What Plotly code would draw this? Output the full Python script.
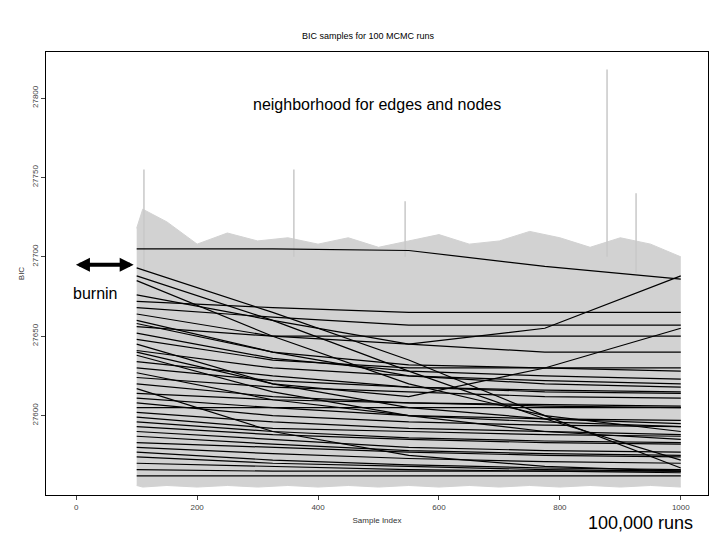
import plotly.graph_objects as go

# black trend lines: value at the sample indices in run_x
run_x = [100, 325, 550, 775, 1000]
runs = [
    [27705, 27705, 27704, 27694, 27686],
    [27693, 27665, 27635, 27600, 27567],
    [27688, 27660, 27628, 27598, 27572],
    [27676, 27660, 27645, 27655, 27688],
    [27672, 27668, 27665, 27665, 27665],
    [27668, 27662, 27657, 27657, 27657],
    [27664, 27650, 27645, 27640, 27640],
    [27660, 27640, 27625, 27620, 27618],
    [27656, 27650, 27650, 27650, 27650],
    [27652, 27636, 27628, 27625, 27623],
    [27648, 27635, 27630, 27630, 27630],
    [27645, 27620, 27605, 27598, 27595],
    [27641, 27630, 27625, 27622, 27620],
    [27638, 27615, 27600, 27590, 27585],
    [27634, 27625, 27618, 27615, 27614],
    [27630, 27622, 27618, 27616, 27615],
    [27627, 27610, 27600, 27596, 27593],
    [27624, 27618, 27615, 27612, 27611],
    [27620, 27612, 27608, 27606, 27605],
    [27617, 27590, 27575, 27568, 27565],
    [27614, 27610, 27608, 27607, 27606],
    [27611, 27605, 27600, 27598, 27597],
    [27608, 27600, 27596, 27594, 27593],
    [27605, 27605, 27605, 27605, 27605],
    [27602, 27596, 27592, 27590, 27588],
    [27599, 27592, 27590, 27588, 27587],
    [27596, 27590, 27586, 27584, 27583],
    [27593, 27588, 27585, 27583, 27582],
    [27590, 27585, 27580, 27578, 27577],
    [27587, 27582, 27578, 27576, 27575],
    [27583, 27580, 27577, 27575, 27574],
    [27580, 27576, 27573, 27571, 27570],
    [27577, 27572, 27569, 27567, 27566],
    [27574, 27570, 27568, 27566, 27565],
    [27570, 27568, 27566, 27565, 27564],
    [27566, 27565, 27565, 27565, 27565],
    [27562, 27562, 27562, 27562, 27562],
    [27640, 27620, 27612, 27630, 27655],
    [27685, 27650, 27620, 27600, 27590],
    [27658, 27640, 27632, 27630, 27628],
]

# grey sample envelope
env_x = [100, 110, 150, 200, 250, 300, 350, 400, 450, 500, 550, 600, 650, 700, 750, 800, 850, 900, 950, 1000]
env_hi = [27718, 27730, 27722, 27708, 27715, 27710, 27712, 27708, 27712, 27706, 27710, 27714, 27708, 27710, 27716, 27712, 27706, 27712, 27708, 27700]
env_lo = [27556, 27555, 27556, 27555, 27556, 27555, 27556, 27555, 27556, 27555, 27556, 27555, 27556, 27555, 27556, 27555, 27556, 27555, 27556, 27555]

# isolated grey spikes
spike_x = [112, 360, 544, 878, 926]
spike_hi = [27755, 27755, 27735, 27818, 27740]
spike_lo = [27690, 27700, 27700, 27700, 27690]

y_ticks = [27600, 27650, 27700, 27750, 27800]

fig = go.Figure()
fig.add_trace(go.Scatter(x=env_x, y=env_lo, mode='lines', line=dict(color='#d2d2d2', width=1)))
fig.add_trace(go.Scatter(x=env_x, y=env_hi, mode='lines', fill='tonexty',
                         fillcolor='#d2d2d2', line=dict(color='#d2d2d2', width=1)))
for sx, hi, lo in zip(spike_x, spike_hi, spike_lo):
    fig.add_trace(go.Scatter(x=[sx, sx], y=[lo, hi], mode='lines',
                             line=dict(color='#c8c8c8', width=1.5)))
for r in runs:
    fig.add_trace(go.Scatter(x=run_x, y=r, mode='lines', line=dict(color='black', width=1.2)))

axis = dict(showline=True, linecolor='black', mirror=True, ticks='outside', ticklen=4,
            showgrid=False, zeroline=False, tickfont=dict(size=8, color='#444'))
fig.update_layout(
    width=720, height=540, showlegend=False, plot_bgcolor='white', paper_bgcolor='white',
    margin=dict(l=38, r=20, t=44, b=53),
    title=dict(text='BIC samples for 100 MCMC runs', x=0.5, y=0.955, xanchor='center',
               font=dict(size=9, color='black', family='Arial')),
    xaxis=dict(axis, range=[-50, 1045], tickvals=[0, 200, 400, 600, 800, 1000],
               title=dict(text='Sample Index', font=dict(size=8, color='#333'), standoff=6)),
    yaxis=dict(axis, range=[27550, 27829], tickvals=y_ticks, ticktext=[str(v) for v in y_ticks],
               tickangle=-90, title=dict(text='BIC', font=dict(size=8, color='#333'), standoff=4)),
    font=dict(family='Arial'),
)
fig.add_annotation(text='neighborhood for edges and nodes', x=0.5, y=27796, xref='paper', yref='y',
                   xanchor='center', showarrow=False, font=dict(size=16, color='black'))
fig.add_annotation(text='burnin', x=-8, y=27677, xref='x', yref='y', xanchor='left',
                   showarrow=False, font=dict(size=16, color='black'))
fig.add_annotation(x=95, y=27695, ax=-3, ay=27695, xref='x', yref='y', axref='x', ayref='y',
                   text='', showarrow=True, arrowhead=2, startarrowhead=2, arrowside='end+start',
                   arrowwidth=4, arrowsize=0.7, arrowcolor='black')
fig.add_annotation(text='100,000 runs', x=0.98, y=-0.035, xref='paper', yref='paper',
                   xanchor='right', yanchor='top', showarrow=False,
                   font=dict(size=18, color='black'))
fig.write_html('out.html')
